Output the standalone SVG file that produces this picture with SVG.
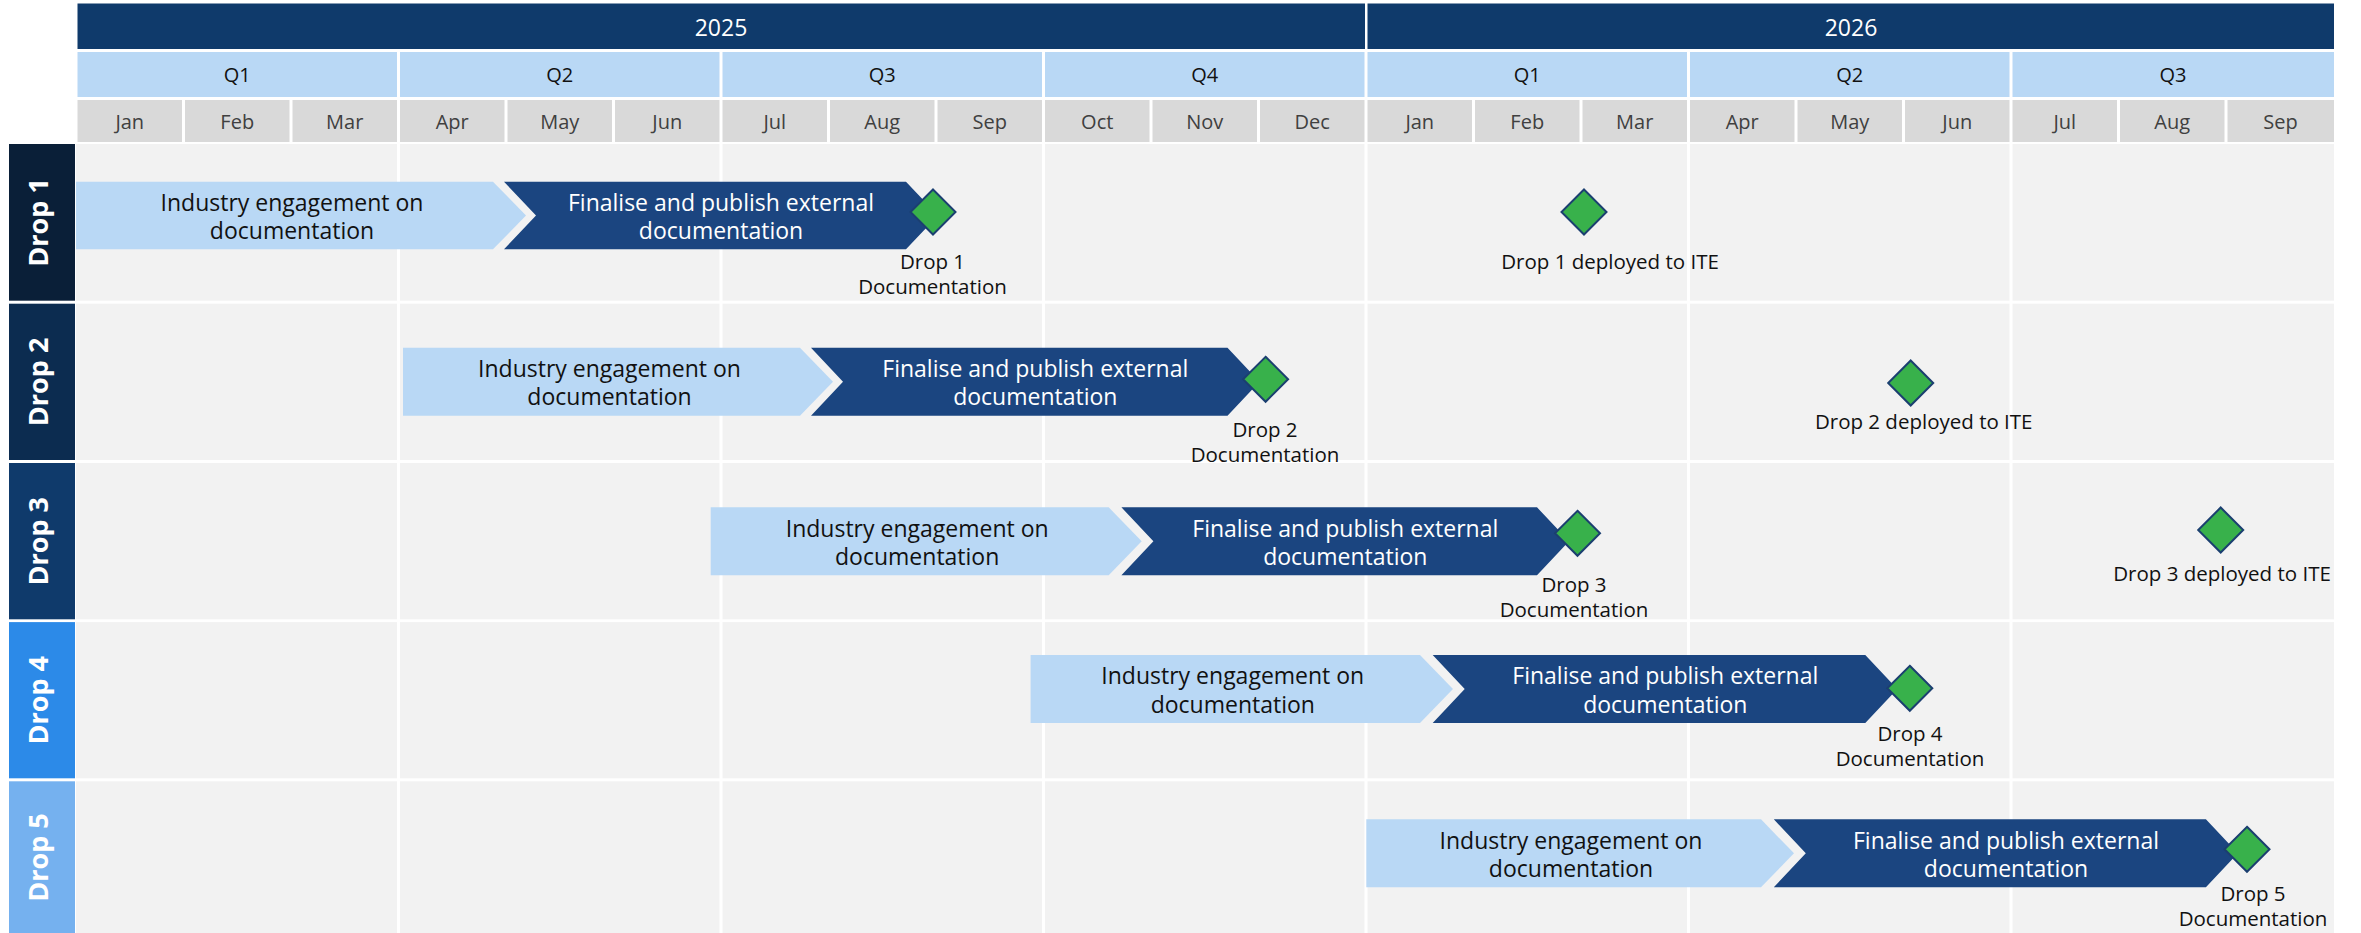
<svg xmlns="http://www.w3.org/2000/svg" width="2361" height="933" viewBox="0 0 2361 933">
<style>
.yr{fill:#0F3A6B}
.qt{fill:#B9D8F5}
.mo{fill:#D9D9D9}
.yt{font-family:"Open Sans","Liberation Sans",sans-serif;font-size:23px;fill:#fff;text-anchor:middle}
.qtt{font-family:"Open Sans","Liberation Sans",sans-serif;font-size:20px;fill:#111;text-anchor:middle}
.mot{font-family:"Open Sans","Liberation Sans",sans-serif;font-size:20px;fill:#404040;text-anchor:middle}
.lt{fill:#B9D8F5}
.dk{fill:#1B4580}
.bt{font-family:"Open Sans","Liberation Sans",sans-serif;font-size:23px;text-anchor:middle}
.btl{fill:#111}
.btd{fill:#fff}
.ms{fill:#38B14B;stroke:#1B3F70;stroke-width:2}
.mt{font-family:"Open Sans","Liberation Sans",sans-serif;font-size:20.5px;fill:#111;text-anchor:middle}
.rl{font-family:"Open Sans","Liberation Sans",sans-serif;font-size:27px;font-weight:bold;fill:#fff;text-anchor:middle}
.wl{fill:#fff}
</style>
<rect width="2361" height="933" fill="#fff"/>
<g id="header">
<rect class="yr" x="77.5" y="3.5" width="1287.5" height="45.5"/>
<rect class="yr" x="1367.5" y="3.5" width="966.5" height="45.5"/>
<text class="yt" x="721" y="36">2025</text>
<text class="yt" x="1851" y="36">2026</text>
<rect class="qt" x="77.5" y="52" width="319.5" height="45"/>
<rect class="qt" x="400" y="52" width="319.5" height="45"/>
<rect class="qt" x="722.5" y="52" width="319.5" height="45"/>
<rect class="qt" x="1045" y="52" width="319.5" height="45"/>
<rect class="qt" x="1367.5" y="52" width="319.5" height="45"/>
<rect class="qt" x="1690" y="52" width="319.5" height="45"/>
<rect class="qt" x="2012.5" y="52" width="321.5" height="45"/>
<text class="qtt" x="237.25" y="82">Q1</text>
<text class="qtt" x="559.75" y="82">Q2</text>
<text class="qtt" x="882.25" y="82">Q3</text>
<text class="qtt" x="1204.75" y="82">Q4</text>
<text class="qtt" x="1527.25" y="82">Q1</text>
<text class="qtt" x="1849.75" y="82">Q2</text>
<text class="qtt" x="2173" y="82">Q3</text>
<rect class="mo" x="77.5" y="100" width="104.5" height="42"/>
<rect class="mo" x="185" y="100" width="104.5" height="42"/>
<rect class="mo" x="292.5" y="100" width="104.5" height="42"/>
<rect class="mo" x="400" y="100" width="104.5" height="42"/>
<rect class="mo" x="507.5" y="100" width="104.5" height="42"/>
<rect class="mo" x="615" y="100" width="104.5" height="42"/>
<rect class="mo" x="722.5" y="100" width="104.5" height="42"/>
<rect class="mo" x="830" y="100" width="104.5" height="42"/>
<rect class="mo" x="937.5" y="100" width="104.5" height="42"/>
<rect class="mo" x="1045" y="100" width="104.5" height="42"/>
<rect class="mo" x="1152.5" y="100" width="104.5" height="42"/>
<rect class="mo" x="1260" y="100" width="104.5" height="42"/>
<rect class="mo" x="1367.5" y="100" width="104.5" height="42"/>
<rect class="mo" x="1475" y="100" width="104.5" height="42"/>
<rect class="mo" x="1582.5" y="100" width="104.5" height="42"/>
<rect class="mo" x="1690" y="100" width="104.5" height="42"/>
<rect class="mo" x="1797.5" y="100" width="104.5" height="42"/>
<rect class="mo" x="1905" y="100" width="104.5" height="42"/>
<rect class="mo" x="2012.5" y="100" width="104.5" height="42"/>
<rect class="mo" x="2120" y="100" width="104.5" height="42"/>
<rect class="mo" x="2227.5" y="100" width="106.5" height="42"/>
<text class="mot" x="129.75" y="129">Jan</text>
<text class="mot" x="237.25" y="129">Feb</text>
<text class="mot" x="344.75" y="129">Mar</text>
<text class="mot" x="452.25" y="129">Apr</text>
<text class="mot" x="559.75" y="129">May</text>
<text class="mot" x="667.25" y="129">Jun</text>
<text class="mot" x="774.75" y="129">Jul</text>
<text class="mot" x="882.25" y="129">Aug</text>
<text class="mot" x="989.75" y="129">Sep</text>
<text class="mot" x="1097.25" y="129">Oct</text>
<text class="mot" x="1204.75" y="129">Nov</text>
<text class="mot" x="1312.25" y="129">Dec</text>
<text class="mot" x="1419.75" y="129">Jan</text>
<text class="mot" x="1527.25" y="129">Feb</text>
<text class="mot" x="1634.75" y="129">Mar</text>
<text class="mot" x="1742.25" y="129">Apr</text>
<text class="mot" x="1849.75" y="129">May</text>
<text class="mot" x="1957.25" y="129">Jun</text>
<text class="mot" x="2064.75" y="129">Jul</text>
<text class="mot" x="2172.25" y="129">Aug</text>
<text class="mot" x="2280.5" y="129">Sep</text>
</g>
<g id="grid">
<rect x="76" y="144" width="2258" height="789" fill="#F2F2F2"/>
<rect class="wl" x="76" y="300.7" width="2258" height="3"/>
<rect class="wl" x="76" y="460" width="2258" height="3"/>
<rect class="wl" x="76" y="619.3" width="2258" height="2.8"/>
<rect class="wl" x="76" y="778.3" width="2258" height="3"/>
<rect class="wl" x="397" y="144" width="3" height="789"/>
<rect class="wl" x="719.5" y="144" width="3" height="789"/>
<rect class="wl" x="1042" y="144" width="3" height="789"/>
<rect class="wl" x="1364.5" y="144" width="3" height="789"/>
<rect class="wl" x="1687" y="144" width="3" height="789"/>
<rect class="wl" x="2009.5" y="144" width="3" height="789"/>
</g>
<g id="row-labels">
<g id="label-drop1"><rect x="9" y="144" width="66" height="156.7" fill="#0A1F38"/><text class="rl" transform="translate(48.4,222.4) rotate(-90)">Drop 1</text></g>
<g id="label-drop2"><rect x="9" y="303.7" width="66" height="156.3" fill="#0C2C50"/><text class="rl" transform="translate(48.4,381.9) rotate(-90)">Drop 2</text></g>
<g id="label-drop3"><rect x="9" y="463" width="66" height="156.3" fill="#0F3A6B"/><text class="rl" transform="translate(48.4,541.2) rotate(-90)">Drop 3</text></g>
<g id="label-drop4"><rect x="9" y="622.1" width="66" height="156.2" fill="#2C8AE8"/><text class="rl" transform="translate(48.4,700.2) rotate(-90)">Drop 4</text></g>
<g id="label-drop5"><rect x="9" y="781.3" width="66" height="151.7" fill="#75B1EF"/><text class="rl" transform="translate(48.4,857.5) rotate(-90)">Drop 5</text></g>
</g>
<g id="connectors"/>
<g id="bars">
<g id="d1-engage"><polygon class="lt" points="76,181.7 493,181.7 526,215.5 493,249.3 76,249.3"/><text class="bt btl" x="292" y="211">Industry engagement on</text><text class="bt btl" x="292" y="239.3">documentation</text></g>
<g id="d1-publish"><polygon class="dk" points="504,181.7 906,181.7 938,215.5 906,249.3 504,249.3 536,215.5"/><text class="bt btd" x="721" y="211">Finalise and publish external</text><text class="bt btd" x="721" y="239.3">documentation</text></g>
<g id="d2-engage"><polygon class="lt" points="403,347.7 800,347.7 833,381.7 800,415.7 403,415.7"/><text class="bt btl" x="609.5" y="377">Industry engagement on</text><text class="bt btl" x="609.5" y="405.3">documentation</text></g>
<g id="d2-publish"><polygon class="dk" points="811,347.7 1227.5,347.7 1259.5,381.7 1227.5,415.7 811,415.7 843,381.7"/><text class="bt btd" x="1035.3" y="377">Finalise and publish external</text><text class="bt btd" x="1035.3" y="405.3">documentation</text></g>
<g id="d3-engage"><polygon class="lt" points="710.7,507.3 1108.7,507.3 1141.7,541.3 1108.7,575.3 710.7,575.3"/><text class="bt btl" x="917.2" y="536.6">Industry engagement on</text><text class="bt btl" x="917.2" y="564.9">documentation</text></g>
<g id="d3-publish"><polygon class="dk" points="1121.4,507.3 1537,507.3 1569,541.3 1537,575.3 1121.4,575.3 1153.4,541.3"/><text class="bt btd" x="1345.3" y="536.6">Finalise and publish external</text><text class="bt btd" x="1345.3" y="564.9">documentation</text></g>
<g id="d4-engage"><polygon class="lt" points="1030.6,655 1420,655 1453,689 1420,723 1030.6,723"/><text class="bt btl" x="1232.8" y="684.3">Industry engagement on</text><text class="bt btl" x="1232.8" y="712.6">documentation</text></g>
<g id="d4-publish"><polygon class="dk" points="1432.7,655 1865.3,655 1897.3,689 1865.3,723 1432.7,723 1464.7,689"/><text class="bt btd" x="1665.3" y="684.3">Finalise and publish external</text><text class="bt btd" x="1665.3" y="712.6">documentation</text></g>
<g id="d5-engage"><polygon class="lt" points="1366.3,819.3 1761,819.3 1794,853.3 1761,887.3 1366.3,887.3"/><text class="bt btl" x="1571" y="848.6">Industry engagement on</text><text class="bt btl" x="1571" y="876.9">documentation</text></g>
<g id="d5-publish"><polygon class="dk" points="1773.8,819.3 2205.9,819.3 2237.9,853.3 2205.9,887.3 1773.8,887.3 1805.8,853.3"/><text class="bt btd" x="2006" y="848.6">Finalise and publish external</text><text class="bt btd" x="2006" y="876.9">documentation</text></g>
</g>
<g id="milestones">
<g id="m-d1-doc"><polygon class="ms" points="933,189.5 955.5,212 933,234.5 910.5,212"/><text class="mt" x="932.5" y="268.5">Drop 1</text><text class="mt" x="932.5" y="293.5">Documentation</text></g>
<g id="m-d1-ite"><polygon class="ms" points="1584,189.5 1606.5,212 1584,234.5 1561.5,212"/><text class="mt" x="1610" y="268.5">Drop 1 deployed to ITE</text></g>
<g id="m-d2-doc"><polygon class="ms" points="1265.6,356.8 1288.1,379.3 1265.6,401.8 1243.1,379.3"/><text class="mt" x="1265" y="437">Drop 2</text><text class="mt" x="1265" y="462">Documentation</text></g>
<g id="m-d2-ite"><polygon class="ms" points="1910.7,360.5 1933.2,383 1910.7,405.5 1888.2,383"/><text class="mt" x="1923.7" y="429">Drop 2 deployed to ITE</text></g>
<g id="m-d3-doc"><polygon class="ms" points="1577.5,510.8 1600,533.3 1577.5,555.8 1555,533.3"/><text class="mt" x="1574" y="591.5">Drop 3</text><text class="mt" x="1574" y="617">Documentation</text></g>
<g id="m-d3-ite"><polygon class="ms" points="2220.7,507.5 2243.2,530 2220.7,552.5 2198.2,530"/><text class="mt" x="2222" y="580.5">Drop 3 deployed to ITE</text></g>
<g id="m-d4-doc"><polygon class="ms" points="1909.8,665.8 1932.3,688.3 1909.8,710.8 1887.3,688.3"/><text class="mt" x="1910" y="740.5">Drop 4</text><text class="mt" x="1910" y="766">Documentation</text></g>
<g id="m-d5-doc"><polygon class="ms" points="2247,826.8 2269.5,849.3 2247,871.8 2224.5,849.3"/><text class="mt" x="2253" y="900.5">Drop 5</text><text class="mt" x="2253" y="925.5">Documentation</text></g>
</g>
</svg>
